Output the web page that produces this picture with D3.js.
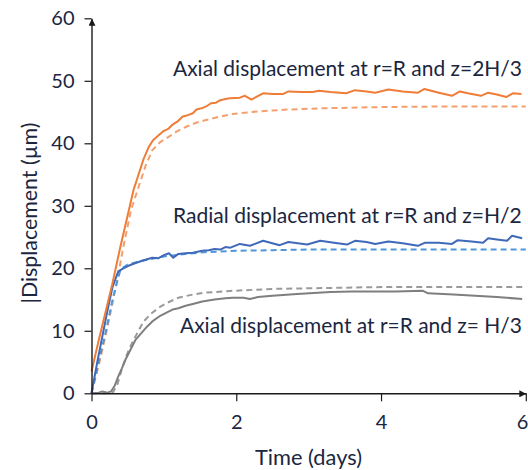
<!DOCTYPE html>
<html>
<head>
<meta charset="utf-8">
<script src="https://cdn.jsdelivr.net/npm/d3@7"></script>
<style>
  html, body { margin: 0; padding: 0; background: #fff; }
  svg { display: block; }
  text { font-family: Lato, "Open Sans", sans-serif; fill: #1b2640; }
</style>
</head>
<body>
<svg id="chart"></svg>
<script>
// values: [days, displacement µm]
const axialTopMeasured = [
  [0,3.5],[0.1,8.5],[0.2,13.3],[0.29,17.6],[0.4,23.5],[0.5,28.5],[0.58,32.5],[0.65,35],[0.72,37.5],
  [0.79,39.4],[0.85,40.5],[0.92,41.2],[1.0,42],[1.06,42.3],[1.12,43],[1.2,43.6],[1.26,44.3],[1.33,44.5],
  [1.4,44.8],[1.45,45.4],[1.52,45.6],[1.6,46.0],[1.65,46.4],[1.72,46.5],[1.78,46.9],[1.85,47.1],
  [1.91,47.2],[2.05,47.3],[2.12,47.6],[2.21,47.0],[2.37,48.0],[2.5,47.9],[2.65,47.9],[2.72,48.3],
  [2.9,48.2],[3.06,48.2],[3.14,48.4],[3.3,48.2],[3.52,48.0],[3.64,48.5],[3.8,48.3],[3.92,48.1],
  [4.1,48.6],[4.3,48.3],[4.51,48.1],[4.6,48.7],[4.8,48.1],[4.98,47.6],[5.09,48.3],[5.2,48.0],
  [5.38,47.6],[5.48,48.1],[5.6,47.8],[5.73,47.4],[5.82,48.0],[5.94,47.9]
];
const axialTopModel = [
  [0,0],[0.1,4.5],[0.2,9.5],[0.33,16.6],[0.45,24],[0.55,29.5],[0.65,33],[0.75,36.5],[0.84,38.9],
  [0.95,40.2],[1.06,41],[1.18,41.9],[1.3,42.6],[1.45,43.3],[1.57,43.7],[1.75,44.2],[1.95,44.7],
  [2.3,45.1],[2.7,45.4],[3.2,45.6],[4,45.8],[5,45.9],[6,45.9]
];
const radialMeasured = [
  [0,0],[0.08,5],[0.15,9.1],[0.22,13.2],[0.29,17],[0.37,19.5],[0.44,20.0],[0.51,20.4],[0.6,20.8],
  [0.7,21.2],[0.78,21.5],[0.84,21.7],[0.92,21.6],[1.0,22.1],[1.07,22.4],[1.13,21.7],[1.2,22.3],
  [1.3,22.4],[1.4,22.5],[1.53,22.8],[1.62,22.9],[1.7,23.1],[1.78,23.0],[1.85,23.4],[1.92,23.3],
  [2.05,23.9],[2.19,23.6],[2.37,24.4],[2.6,23.7],[2.72,24.2],[2.98,23.8],[3.16,24.4],[3.35,24.1],
  [3.53,23.8],[3.64,24.4],[3.8,24.2],[3.92,23.9],[4.1,24.3],[4.3,24.0],[4.51,23.6],[4.61,24.1],
  [4.8,24.1],[4.98,23.9],[5.06,24.5],[5.25,24.3],[5.41,24.1],[5.48,24.8],[5.6,24.6],[5.74,24.4],
  [5.81,25.2],[5.95,24.8]
];
const radialModel = [
  [0,0],[0.1,5],[0.2,10],[0.3,15.5],[0.4,19.8],[0.5,20.6],[0.7,21.2],[1.0,21.9],[1.3,22.3],
  [1.6,22.6],[2,22.8],[2.5,22.9],[3,23],[4,23],[5,23],[6,23]
];
const axialLowMeasured = [
  [0,0],[0.1,0.1],[0.15,0.3],[0.22,0.1],[0.27,0.3],[0.32,1.2],[0.37,2.7],[0.42,4],[0.47,5.4],
  [0.54,7],[0.61,8.6],[0.7,9.8],[0.77,10.7],[0.84,11.5],[0.95,12.4],[1.05,13.0],[1.12,13.4],
  [1.2,13.6],[1.3,14.0],[1.4,14.3],[1.53,14.7],[1.7,15.0],[1.85,15.2],[1.95,15.3],[2.1,15.3],
  [2.19,15.1],[2.3,15.4],[2.5,15.6],[2.84,15.9],[3.3,16.2],[3.6,16.3],[3.92,16.3],[4.2,16.3],
  [4.58,16.4],[4.65,16.0],[5.0,15.8],[5.3,15.6],[5.6,15.4],[5.95,15.1]
];
const axialLowModel = [
  [0,0],[0.2,0],[0.3,0.2],[0.36,1.5],[0.43,4.3],[0.5,6.5],[0.57,8.3],[0.65,10],[0.72,11.5],
  [0.82,12.7],[0.93,13.7],[1.05,14.5],[1.2,15.3],[1.4,15.8],[1.57,16.1],[1.95,16.4],[2.5,16.7],
  [3,16.8],[4,17],[5,17],[6,17]
];

const xTicks = [0, 2, 4, 6];
const yTicks = [0, 10, 20, 30, 40, 50, 60];
const labels = [
  "Axial displacement at r=R and z=2H/3",
  "Radial displacement at r=R and z=H/2",
  "Axial displacement at r=R and z= H/3"
];

const width = 528, height = 470;
const svg = d3.select("#chart").attr("width", width).attr("height", height);

const x = d3.scaleLinear().domain([0, 6]).range([91.5, 525.8]);
const y = d3.scaleLinear().domain([0, 60]).range([393.3, 18.3]);

// shrink or grow a text so it spans the width seen in the picture
const fit = (sel, w) => {
  const len = sel.node().getComputedTextLength();
  const fs = +sel.attr("font-size");
  sel.attr("font-size", (fs * w / len).toFixed(2));
};

// arrow head for the axes
svg.append("defs").append("marker")
  .attr("id", "arrow")
  .attr("viewBox", "0 0 10 10")
  .attr("refX", 10).attr("refY", 5)
  .attr("markerWidth", 7).attr("markerHeight", 7)
  .attr("markerUnits", "userSpaceOnUse")
  .attr("orient", "auto")
  .append("path")
  .attr("d", "M0,0L10,5L0,10z")
  .attr("fill", "#1a1a1a");

const line = d3.line().x(d => x(d[0])).y(d => y(d[1]));

const series = [
  { data: axialTopModel, color: "#f4a06e", dash: "6,4" },
  { data: radialModel, color: "#4f97d8", dash: "6,4" },
  { data: axialLowModel, color: "#9a9a9a", dash: "6,4" },
  { data: axialLowMeasured, color: "#7f7f7f", dash: null },
  { data: radialMeasured, color: "#3f69b9", dash: null },
  { data: axialTopMeasured, color: "#ef7d38", dash: null }
];

svg.append("g")
  .selectAll("path")
  .data(series)
  .join("path")
  .attr("d", d => line(d.data))
  .attr("fill", "none")
  .attr("stroke", d => d.color)
  .attr("stroke-width", 2)
  .attr("stroke-dasharray", d => d.dash)
  .attr("stroke-linejoin", "round");

// y axis
svg.append("g")
  .attr("transform", `translate(${x(0)},0)`)
  .call(d3.axisLeft(y).tickValues(yTicks).tickSize(7).tickSizeOuter(0).tickPadding(10))
  .call(g => g.select(".domain").attr("stroke", "#1a1a1a").attr("stroke-width", 1.4).attr("marker-end", "url(#arrow)"))
  .call(g => g.selectAll(".tick line").attr("stroke", "#1a1a1a").attr("stroke-width", 1.2))
  .call(g => g.selectAll(".tick text").attr("font-size", 20).attr("font-family", null).attr("fill", null));

// x axis
svg.append("g")
  .attr("transform", `translate(0,${y(0)})`)
  .call(d3.axisBottom(x).tickValues(xTicks).tickFormat(d3.format("d")).tickSize(8).tickSizeOuter(0).tickPadding(14))
  .call(g => g.select(".domain").attr("stroke", "#1a1a1a").attr("stroke-width", 1.4).attr("marker-end", "url(#arrow)"))
  .call(g => g.selectAll(".tick line").attr("stroke", "#1a1a1a").attr("stroke-width", 1.2))
  .call(g => g.selectAll(".tick text").attr("font-size", 20).attr("font-family", null).attr("fill", null))
  .call(g => g.selectAll(".tick").filter(d => d === 6).select("text").attr("text-anchor", "end").attr("x", 2));

// axis titles
svg.append("text")
  .attr("x", 308.5).attr("y", 465)
  .attr("text-anchor", "middle")
  .attr("font-size", 19)
  .text("Time (days)")
  .call(fit, 107);

svg.append("text")
  .attr("transform", "translate(37,213) rotate(-90)")
  .attr("text-anchor", "middle")
  .attr("font-size", 19)
  .text("|Displacement (µm)")
  .call(fit, 181);

// curve labels
svg.append("text").attr("x", 173).attr("y", 76).attr("font-size", 19).text(labels[0]).call(fit, 349);
svg.append("text").attr("x", 173).attr("y", 223).attr("font-size", 19).text(labels[1]).call(fit, 349);
svg.append("text").attr("x", 180).attr("y", 333).attr("font-size", 19).text(labels[2]).call(fit, 342);
</script>
</body>
</html>
